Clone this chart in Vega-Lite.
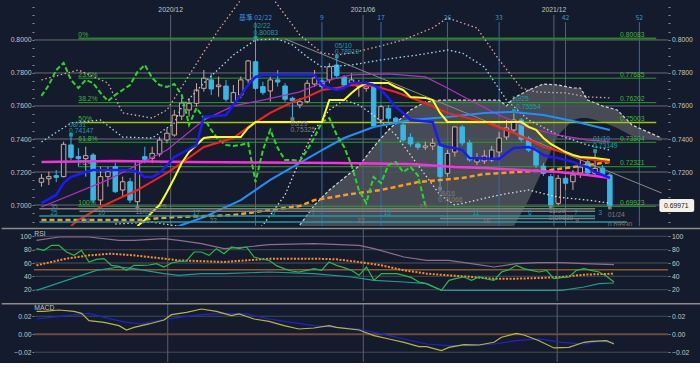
{
"$schema":"https://vega.github.io/schema/vega-lite/v6.json",
"background":"#141b2c",
"padding":0,
"spacing":0,
"config":{"view":{"stroke":null},"axis":{"labelFont":"Liberation Sans","labelFontSize":6.8,"labelColor":"#c4c4c4","domain":false,"tickColor":"#8c8c8c","tickSize":2,"grid":false},"text":{"font":"Liberation Sans","fontSize":6.8}},
"datasets":{
"candles":[
{"d":"2020-08-03","o":0.7138,"h":0.7188,"l":0.7111,"c":0.7162},
{"d":"2020-08-10","o":0.7159,"h":0.7202,"l":0.7121,"c":0.7172},
{"d":"2020-08-17","o":0.7178,"h":0.7212,"l":0.7139,"c":0.7168},
{"d":"2020-08-24","o":0.7172,"h":0.7384,"l":0.7168,"c":0.7368},
{"d":"2020-08-31","o":0.7364,"h":0.74147,"l":0.7273,"c":0.7289},
{"d":"2020-09-07","o":0.7293,"h":0.7345,"l":0.7232,"c":0.7281},
{"d":"2020-09-14","o":0.7281,"h":0.7353,"l":0.7172,"c":0.7299},
{"d":"2020-09-21","o":0.7303,"h":0.7315,"l":0.7012,"c":0.7030},
{"d":"2020-09-28","o":0.7030,"h":0.7232,"l":0.7000,"c":0.7172},
{"d":"2020-10-05","o":0.7172,"h":0.7232,"l":0.7111,"c":0.7202},
{"d":"2020-10-12","o":0.7232,"h":0.7255,"l":0.7073,"c":0.7081},
{"d":"2020-10-19","o":0.7091,"h":0.7172,"l":0.7050,"c":0.7141},
{"d":"2020-10-26","o":0.7141,"h":0.7164,"l":0.7012,"c":0.7030},
{"d":"2020-11-02","o":0.7020,"h":0.7273,"l":0.69923,"c":0.7263},
{"d":"2020-11-09","o":0.7293,"h":0.7353,"l":0.7253,"c":0.7277},
{"d":"2020-11-16","o":0.7283,"h":0.7353,"l":0.7253,"c":0.7313},
{"d":"2020-11-23","o":0.7309,"h":0.7414,"l":0.7293,"c":0.7394},
{"d":"2020-11-30","o":0.7394,"h":0.7465,"l":0.7374,"c":0.7435},
{"d":"2020-12-07","o":0.7424,"h":0.7576,"l":0.7414,"c":0.7545},
{"d":"2020-12-14","o":0.7539,"h":0.7649,"l":0.7515,"c":0.7618},
{"d":"2020-12-21","o":0.7576,"h":0.7647,"l":0.7535,"c":0.7616},
{"d":"2020-12-28","o":0.7616,"h":0.7738,"l":0.7596,"c":0.7697},
{"d":"2021-01-04","o":0.7707,"h":0.7818,"l":0.7687,"c":0.7768},
{"d":"2021-01-11","o":0.7758,"h":0.7798,"l":0.7667,"c":0.7703},
{"d":"2021-01-18","o":0.7717,"h":0.7778,"l":0.7656,"c":0.7727},
{"d":"2021-01-25","o":0.7721,"h":0.7758,"l":0.7626,"c":0.7641},
{"d":"2021-02-01","o":0.7622,"h":0.7727,"l":0.7606,"c":0.7681},
{"d":"2021-02-08","o":0.7667,"h":0.7778,"l":0.7647,"c":0.7758},
{"d":"2021-02-15","o":0.7758,"h":0.7879,"l":0.7738,"c":0.7873},
{"d":"2021-02-22","o":0.7868,"h":0.80083,"l":0.7697,"c":0.7707},
{"d":"2021-03-01","o":0.7717,"h":0.7747,"l":0.7667,"c":0.7681},
{"d":"2021-03-08","o":0.7691,"h":0.7778,"l":0.7626,"c":0.7758},
{"d":"2021-03-15","o":0.7758,"h":0.7818,"l":0.7717,"c":0.7745},
{"d":"2021-03-22","o":0.7721,"h":0.7738,"l":0.7626,"c":0.7641},
{"d":"2021-03-29","o":0.7647,"h":0.7656,"l":0.75325,"c":0.7632},
{"d":"2021-04-05","o":0.7606,"h":0.7647,"l":0.7586,"c":0.7626},
{"d":"2021-04-12","o":0.7626,"h":0.7758,"l":0.7616,"c":0.7738},
{"d":"2021-04-19","o":0.7733,"h":0.7818,"l":0.7715,"c":0.7770},
{"d":"2021-04-26","o":0.7752,"h":0.7768,"l":0.7697,"c":0.7717},
{"d":"2021-05-03","o":0.7758,"h":0.7859,"l":0.7738,"c":0.7838},
{"d":"2021-05-10","o":0.7848,"h":0.78919,"l":0.7770,"c":0.7784},
{"d":"2021-05-17","o":0.7774,"h":0.7788,"l":0.7717,"c":0.7727},
{"d":"2021-05-24","o":0.7741,"h":0.7798,"l":0.7727,"c":0.7758},
{"d":"2021-05-31","o":0.7717,"h":0.7758,"l":0.7656,"c":0.7738},
{"d":"2021-06-07","o":0.7707,"h":0.7747,"l":0.7687,"c":0.7717},
{"d":"2021-06-14","o":0.7717,"h":0.7727,"l":0.7475,"c":0.7479},
{"d":"2021-06-21","o":0.7515,"h":0.7606,"l":0.7495,"c":0.7596},
{"d":"2021-06-28","o":0.7586,"h":0.7606,"l":0.7505,"c":0.7526},
{"d":"2021-07-05","o":0.7526,"h":0.7535,"l":0.7485,"c":0.7505},
{"d":"2021-07-12","o":0.7485,"h":0.7495,"l":0.7384,"c":0.7394},
{"d":"2021-07-19","o":0.7410,"h":0.7435,"l":0.7353,"c":0.7370},
{"d":"2021-07-26","o":0.7370,"h":0.7384,"l":0.7333,"c":0.7350},
{"d":"2021-08-02","o":0.7350,"h":0.7384,"l":0.7333,"c":0.7358},
{"d":"2021-08-09","o":0.7358,"h":0.7404,"l":0.7333,"c":0.7374},
{"d":"2021-08-16","o":0.7358,"h":0.7374,"l":0.71066,"c":0.7172},
{"d":"2021-08-23","o":0.7192,"h":0.7333,"l":0.7172,"c":0.7313},
{"d":"2021-08-30","o":0.7321,"h":0.7475,"l":0.7293,"c":0.7473},
{"d":"2021-09-06","o":0.7473,"h":0.7485,"l":0.7358,"c":0.7376},
{"d":"2021-09-13","o":0.7376,"h":0.7394,"l":0.7261,"c":0.7273},
{"d":"2021-09-20","o":0.7261,"h":0.7315,"l":0.7242,"c":0.7285},
{"d":"2021-09-27","o":0.7267,"h":0.7333,"l":0.7249,"c":0.7297},
{"d":"2021-10-04","o":0.7273,"h":0.7358,"l":0.7261,"c":0.7333},
{"d":"2021-10-11","o":0.7321,"h":0.7442,"l":0.7291,"c":0.7406},
{"d":"2021-10-18","o":0.7412,"h":0.7515,"l":0.7394,"c":0.7467},
{"d":"2021-10-25","o":0.7455,"h":0.75554,"l":0.7436,"c":0.7515},
{"d":"2021-11-01","o":0.7515,"h":0.7527,"l":0.7382,"c":0.7398},
{"d":"2021-11-08","o":0.7404,"h":0.7418,"l":0.7321,"c":0.7333},
{"d":"2021-11-15","o":0.7333,"h":0.7345,"l":0.7224,"c":0.7242},
{"d":"2021-11-22","o":0.7236,"h":0.7255,"l":0.7176,"c":0.7192},
{"d":"2021-11-29","o":0.7172,"h":0.7188,"l":0.69936,"c":0.7000},
{"d":"2021-12-06","o":0.7010,"h":0.7182,"l":0.6998,"c":0.7162},
{"d":"2021-12-13","o":0.7162,"h":0.7176,"l":0.7091,"c":0.7132},
{"d":"2021-12-20","o":0.7141,"h":0.7212,"l":0.7091,"c":0.7182},
{"d":"2021-12-27","o":0.7194,"h":0.7273,"l":0.7164,"c":0.7230},
{"d":"2022-01-03","o":0.7262,"h":0.7285,"l":0.7176,"c":0.7194},
{"d":"2022-01-10","o":0.7192,"h":0.73149,"l":0.7176,"c":0.7222},
{"d":"2022-01-17","o":0.7224,"h":0.7242,"l":0.7170,"c":0.7182},
{"d":"2022-01-24","o":0.7182,"h":0.7194,"l":0.6993,"c":0.69971}
],
"ma":[
{"s":"blue","d":"2020-08-03","p":0.7012},{"s":"blue","d":"2020-08-17","p":0.7061},{"s":"blue","d":"2020-08-24","p":0.7133},{"s":"blue","d":"2020-08-31","p":0.7170},{"s":"blue","d":"2020-09-14","p":0.7200},{"s":"blue","d":"2020-09-21","p":0.7212},{"s":"blue","d":"2020-10-26","p":0.7212},{"s":"blue","d":"2020-11-02","p":0.7200},{"s":"blue","d":"2020-11-09","p":0.7170},{"s":"blue","d":"2020-11-16","p":0.7170},{"s":"blue","d":"2020-11-23","p":0.7194},{"s":"blue","d":"2020-11-30","p":0.7242},{"s":"blue","d":"2020-12-07","p":0.7291},{"s":"blue","d":"2020-12-14","p":0.7315},{"s":"blue","d":"2020-12-21","p":0.7339},{"s":"blue","d":"2020-12-28","p":0.7364},{"s":"blue","d":"2021-01-04","p":0.7533},{"s":"blue","d":"2021-01-25","p":0.7545},{"s":"blue","d":"2021-02-01","p":0.7606},{"s":"blue","d":"2021-02-08","p":0.7667},{"s":"blue","d":"2021-02-15","p":0.7727},{"s":"blue","d":"2021-02-22","p":0.7776},{"s":"blue","d":"2021-03-01","p":0.7788},{"s":"blue","d":"2021-04-19","p":0.7788},{"s":"blue","d":"2021-04-26","p":0.7727},{"s":"blue","d":"2021-05-03","p":0.7709},{"s":"blue","d":"2021-05-10","p":0.7697},{"s":"blue","d":"2021-05-17","p":0.7709},{"s":"blue","d":"2021-05-24","p":0.7739},{"s":"blue","d":"2021-06-07","p":0.7739},{"s":"blue","d":"2021-06-14","p":0.7727},{"s":"blue","d":"2021-06-21","p":0.7697},{"s":"blue","d":"2021-06-28","p":0.7649},{"s":"blue","d":"2021-07-05","p":0.7594},{"s":"blue","d":"2021-07-12","p":0.7558},{"s":"blue","d":"2021-07-19","p":0.7515},{"s":"blue","d":"2021-08-09","p":0.7503},{"s":"blue","d":"2021-08-16","p":0.7364},{"s":"blue","d":"2021-08-23","p":0.7352},{"s":"blue","d":"2021-08-30","p":0.7345},{"s":"blue","d":"2021-09-06","p":0.7333},{"s":"blue","d":"2021-09-13","p":0.7285},{"s":"blue","d":"2021-10-11","p":0.7279},{"s":"blue","d":"2021-10-18","p":0.7315},{"s":"blue","d":"2021-10-25","p":0.7345},{"s":"blue","d":"2021-11-08","p":0.7352},{"s":"blue","d":"2021-11-15","p":0.7333},{"s":"blue","d":"2021-11-22","p":0.7303},{"s":"blue","d":"2021-11-29","p":0.7291},{"s":"blue","d":"2021-12-06","p":0.7285},{"s":"blue","d":"2021-12-13","p":0.7273},{"s":"blue","d":"2021-12-20","p":0.7261},{"s":"blue","d":"2021-12-27","p":0.7242},{"s":"blue","d":"2022-01-03","p":0.7230},{"s":"blue","d":"2022-01-10","p":0.7200},{"s":"blue","d":"2022-01-17","p":0.7182},{"s":"blue","d":"2022-01-24","p":0.7164},
{"s":"red","d":"2020-08-31","p":0.6873},{"s":"red","d":"2020-09-07","p":0.6909},{"s":"red","d":"2020-09-28","p":0.6988},{"s":"red","d":"2020-10-12","p":0.7030},{"s":"red","d":"2020-11-02","p":0.7091},{"s":"red","d":"2020-11-30","p":0.7194},{"s":"red","d":"2020-12-14","p":0.7255},{"s":"red","d":"2021-01-04","p":0.7352},{"s":"red","d":"2021-02-01","p":0.7406},{"s":"red","d":"2021-02-15","p":0.7473},{"s":"red","d":"2021-03-08","p":0.7558},{"s":"red","d":"2021-03-29","p":0.7624},{"s":"red","d":"2021-04-12","p":0.7655},{"s":"red","d":"2021-04-26","p":0.7697},{"s":"red","d":"2021-05-10","p":0.7709},{"s":"red","d":"2021-05-24","p":0.7727},{"s":"red","d":"2021-06-14","p":0.7721},{"s":"red","d":"2021-07-05","p":0.7685},{"s":"red","d":"2021-08-02","p":0.7618},{"s":"red","d":"2021-08-23","p":0.7558},{"s":"red","d":"2021-09-27","p":0.7503},{"s":"red","d":"2021-10-25","p":0.7436},{"s":"red","d":"2021-11-08","p":0.7394},{"s":"red","d":"2021-11-22","p":0.7352},{"s":"red","d":"2021-12-13","p":0.7315},{"s":"red","d":"2021-12-27","p":0.7285},{"s":"red","d":"2022-01-24","p":0.7261},
{"s":"yellow","d":"2020-11-02","p":0.6873},{"s":"yellow","d":"2020-11-09","p":0.6909},{"s":"yellow","d":"2020-11-16","p":0.6958},{"s":"yellow","d":"2020-11-23","p":0.7000},{"s":"yellow","d":"2020-11-30","p":0.7079},{"s":"yellow","d":"2020-12-07","p":0.7164},{"s":"yellow","d":"2020-12-14","p":0.7255},{"s":"yellow","d":"2020-12-21","p":0.7321},{"s":"yellow","d":"2020-12-28","p":0.7364},{"s":"yellow","d":"2021-01-04","p":0.7406},{"s":"yellow","d":"2021-01-11","p":0.7412},{"s":"yellow","d":"2021-02-08","p":0.7412},{"s":"yellow","d":"2021-02-15","p":0.7467},{"s":"yellow","d":"2021-02-22","p":0.7503},{"s":"yellow","d":"2021-04-26","p":0.7503},{"s":"yellow","d":"2021-05-03","p":0.7636},{"s":"yellow","d":"2021-05-17","p":0.7636},{"s":"yellow","d":"2021-05-24","p":0.7679},{"s":"yellow","d":"2021-05-31","p":0.7715},{"s":"yellow","d":"2021-06-07","p":0.7739},{"s":"yellow","d":"2021-06-28","p":0.7739},{"s":"yellow","d":"2021-07-05","p":0.7715},{"s":"yellow","d":"2021-07-12","p":0.7697},{"s":"yellow","d":"2021-07-19","p":0.7655},{"s":"yellow","d":"2021-08-02","p":0.7649},{"s":"yellow","d":"2021-08-09","p":0.7636},{"s":"yellow","d":"2021-08-16","p":0.7558},{"s":"yellow","d":"2021-08-23","p":0.7503},{"s":"yellow","d":"2021-11-01","p":0.7503},{"s":"yellow","d":"2021-11-08","p":0.7473},{"s":"yellow","d":"2021-11-15","p":0.7455},{"s":"yellow","d":"2021-11-22","p":0.7406},{"s":"yellow","d":"2021-11-29","p":0.7370},{"s":"yellow","d":"2021-12-06","p":0.7345},{"s":"yellow","d":"2021-12-13","p":0.7321},{"s":"yellow","d":"2021-12-20","p":0.7303},{"s":"yellow","d":"2021-12-27","p":0.7291},{"s":"yellow","d":"2022-01-10","p":0.7285},{"s":"yellow","d":"2022-01-24","p":0.7273},
{"s":"lblue","d":"2020-12-07","p":0.6860},{"s":"lblue","d":"2020-12-14","p":0.6879},{"s":"lblue","d":"2021-01-04","p":0.6927},{"s":"lblue","d":"2021-02-08","p":0.7030},{"s":"lblue","d":"2021-03-08","p":0.7152},{"s":"lblue","d":"2021-04-05","p":0.7255},{"s":"lblue","d":"2021-04-26","p":0.7333},{"s":"lblue","d":"2021-05-17","p":0.7406},{"s":"lblue","d":"2021-06-14","p":0.7473},{"s":"lblue","d":"2021-07-19","p":0.7515},{"s":"lblue","d":"2021-08-23","p":0.7533},{"s":"lblue","d":"2021-09-27","p":0.7558},{"s":"lblue","d":"2021-10-25","p":0.7564},{"s":"lblue","d":"2021-11-22","p":0.7545},{"s":"lblue","d":"2021-12-20","p":0.7509},{"s":"lblue","d":"2022-01-24","p":0.7455},
{"s":"mag","d":"2020-08-03","p":0.7261},{"s":"mag","d":"2020-10-12","p":0.7267},{"s":"mag","d":"2020-12-21","p":0.7261},{"s":"mag","d":"2021-03-01","p":0.7258},{"s":"mag","d":"2021-05-10","p":0.7255},{"s":"mag","d":"2021-07-19","p":0.7249},{"s":"mag","d":"2021-08-30","p":0.7230},{"s":"mag","d":"2021-09-27","p":0.7224},{"s":"mag","d":"2021-11-01","p":0.7212},{"s":"mag","d":"2021-12-06","p":0.7200},{"s":"mag","d":"2022-01-03","p":0.7182},{"s":"mag","d":"2022-01-24","p":0.7164},
{"s":"purple","d":"2020-08-03","p":0.6988},{"s":"purple","d":"2020-10-05","p":0.7152},{"s":"purple","d":"2020-11-30","p":0.7333},{"s":"purple","d":"2021-01-04","p":0.7515},{"s":"purple","d":"2021-02-01","p":0.7600},{"s":"purple","d":"2021-03-01","p":0.7636},{"s":"purple","d":"2021-04-05","p":0.7685},{"s":"purple","d":"2021-05-03","p":0.7758},{"s":"purple","d":"2021-05-24","p":0.7788},{"s":"purple","d":"2021-06-28","p":0.7794},{"s":"purple","d":"2021-08-02","p":0.7776},{"s":"purple","d":"2021-08-23","p":0.7709},{"s":"purple","d":"2021-09-13","p":0.7636},{"s":"purple","d":"2021-10-11","p":0.7545},{"s":"purple","d":"2021-11-08","p":0.7467},{"s":"purple","d":"2021-12-06","p":0.7424},{"s":"purple","d":"2022-01-03","p":0.7394},{"s":"purple","d":"2022-01-24","p":0.7382},
{"s":"orange","d":"2020-08-03","p":0.6909},{"s":"orange","d":"2020-11-02","p":0.6909},{"s":"orange","d":"2020-12-07","p":0.6927},{"s":"orange","d":"2021-02-01","p":0.6939},{"s":"orange","d":"2021-03-08","p":0.6970},{"s":"orange","d":"2021-04-05","p":0.6994},{"s":"orange","d":"2021-04-19","p":0.7030},{"s":"orange","d":"2021-05-24","p":0.7067},{"s":"orange","d":"2021-06-21","p":0.7091},{"s":"orange","d":"2021-07-26","p":0.7139},{"s":"orange","d":"2021-09-06","p":0.7164},{"s":"orange","d":"2021-09-27","p":0.7188},{"s":"orange","d":"2021-11-29","p":0.7212},{"s":"orange","d":"2021-12-27","p":0.7236},{"s":"orange","d":"2022-01-24","p":0.7261},
{"s":"chikou","d":"2020-08-03","p":0.7661},{"s":"chikou","d":"2020-08-10","p":0.7727},{"s":"chikou","d":"2020-08-17","p":0.7818},{"s":"chikou","d":"2020-08-24","p":0.7861},{"s":"chikou","d":"2020-08-31","p":0.7758},{"s":"chikou","d":"2020-09-07","p":0.7709},{"s":"chikou","d":"2020-09-14","p":0.7758},{"s":"chikou","d":"2020-09-21","p":0.7739},{"s":"chikou","d":"2020-09-28","p":0.7679},{"s":"chikou","d":"2020-10-05","p":0.7630},{"s":"chikou","d":"2020-10-12","p":0.7667},{"s":"chikou","d":"2020-10-19","p":0.7697},{"s":"chikou","d":"2020-10-26","p":0.7727},{"s":"chikou","d":"2020-11-02","p":0.7806},{"s":"chikou","d":"2020-11-09","p":0.7848},{"s":"chikou","d":"2020-11-16","p":0.7770},{"s":"chikou","d":"2020-11-23","p":0.7727},{"s":"chikou","d":"2020-11-30","p":0.7715},{"s":"chikou","d":"2020-12-07","p":0.7733},{"s":"chikou","d":"2020-12-14","p":0.7667},{"s":"chikou","d":"2020-12-21","p":0.7485},{"s":"chikou","d":"2020-12-28","p":0.7588},{"s":"chikou","d":"2021-01-04","p":0.7527},{"s":"chikou","d":"2021-01-11","p":0.7455},{"s":"chikou","d":"2021-01-18","p":0.7394},{"s":"chikou","d":"2021-01-25","p":0.7364},{"s":"chikou","d":"2021-02-01","p":0.7358},{"s":"chikou","d":"2021-02-08","p":0.7364},{"s":"chikou","d":"2021-02-15","p":0.7376},{"s":"chikou","d":"2021-02-22","p":0.7139},{"s":"chikou","d":"2021-03-01","p":0.7333},{"s":"chikou","d":"2021-03-08","p":0.7455},{"s":"chikou","d":"2021-03-15","p":0.7345},{"s":"chikou","d":"2021-03-22","p":0.7273},{"s":"chikou","d":"2021-03-29","p":0.7273},{"s":"chikou","d":"2021-04-05","p":0.7267},{"s":"chikou","d":"2021-04-12","p":0.7333},{"s":"chikou","d":"2021-04-19","p":0.7412},{"s":"chikou","d":"2021-04-26","p":0.7503},{"s":"chikou","d":"2021-05-03","p":0.7527},{"s":"chikou","d":"2021-05-10","p":0.7424},{"s":"chikou","d":"2021-05-17","p":0.7352},{"s":"chikou","d":"2021-05-24","p":0.7242},{"s":"chikou","d":"2021-05-31","p":0.7091},{"s":"chikou","d":"2021-06-07","p":0.7012},{"s":"chikou","d":"2021-06-14","p":0.7170},{"s":"chikou","d":"2021-06-21","p":0.7133},{"s":"chikou","d":"2021-06-28","p":0.7242},{"s":"chikou","d":"2021-07-05","p":0.7261},{"s":"chikou","d":"2021-07-12","p":0.7200},{"s":"chikou","d":"2021-07-19","p":0.7230},{"s":"chikou","d":"2021-07-26","p":0.7180},{"s":"chikou","d":"2021-08-02","p":0.6997},
{"s":"pinkU","d":"2020-08-03","p":0.7758},{"s":"pinkU","d":"2020-09-07","p":0.7818},{"s":"pinkU","d":"2020-10-05","p":0.7739},{"s":"pinkU","d":"2020-10-19","p":0.7558},{"s":"pinkU","d":"2020-11-16","p":0.7527},{"s":"pinkU","d":"2020-11-30","p":0.7576},{"s":"pinkU","d":"2020-12-14","p":0.7715},{"s":"pinkU","d":"2021-01-04","p":0.7927},{"s":"pinkU","d":"2021-01-18","p":0.8061},{"s":"pinkU","d":"2021-02-01","p":0.8182},{"s":"pinkU","d":"2021-02-15","p":0.8303},{"s":"pinkU","d":"2021-03-01","p":0.8333},{"s":"pinkU","d":"2021-03-15","p":0.8212},{"s":"pinkU","d":"2021-03-22","p":0.8152},{"s":"pinkU","d":"2021-04-05","p":0.8030},{"s":"pinkU","d":"2021-04-26","p":0.7921},{"s":"pinkU","d":"2021-05-10","p":0.7909},{"s":"pinkU","d":"2021-05-24","p":0.7921},{"s":"pinkU","d":"2021-06-21","p":0.7964},{"s":"pinkU","d":"2021-07-12","p":0.8000},{"s":"pinkU","d":"2021-08-09","p":0.8073},{"s":"pinkU","d":"2021-08-23","p":0.8133},{"s":"pinkU","d":"2021-09-20","p":0.8073},{"s":"pinkU","d":"2021-10-11","p":0.7879},{"s":"pinkU","d":"2021-11-01","p":0.7709},{"s":"pinkU","d":"2021-11-15","p":0.7685},{"s":"pinkU","d":"2021-12-13","p":0.7679},{"s":"pinkU","d":"2022-01-03","p":0.7655},{"s":"pinkU","d":"2022-01-24","p":0.7649},
{"s":"cyanU","d":"2020-08-03","p":0.7382},{"s":"cyanU","d":"2020-08-31","p":0.7497},{"s":"cyanU","d":"2020-09-28","p":0.7515},{"s":"cyanU","d":"2020-10-19","p":0.7412},{"s":"cyanU","d":"2020-11-16","p":0.7406},{"s":"cyanU","d":"2020-12-07","p":0.7497},{"s":"cyanU","d":"2020-12-14","p":0.7594},{"s":"cyanU","d":"2021-01-04","p":0.7739},{"s":"cyanU","d":"2021-02-01","p":0.7909},{"s":"cyanU","d":"2021-02-22","p":0.8000},{"s":"cyanU","d":"2021-03-15","p":0.8006},{"s":"cyanU","d":"2021-03-29","p":0.7970},{"s":"cyanU","d":"2021-04-12","p":0.7897},{"s":"cyanU","d":"2021-04-26","p":0.7836},{"s":"cyanU","d":"2021-05-24","p":0.7848},{"s":"cyanU","d":"2021-06-21","p":0.7879},{"s":"cyanU","d":"2021-07-26","p":0.7909},{"s":"cyanU","d":"2021-08-23","p":0.7939},{"s":"cyanU","d":"2021-09-06","p":0.7921},{"s":"cyanU","d":"2021-09-27","p":0.7836},{"s":"cyanU","d":"2021-10-18","p":0.7636},{"s":"cyanU","d":"2021-11-08","p":0.7515},{"s":"cyanU","d":"2021-12-06","p":0.7424},{"s":"cyanU","d":"2022-01-03","p":0.7364},{"s":"cyanU","d":"2022-01-24","p":0.7333},
{"s":"whiteL","d":"2020-10-12","p":0.6885},{"s":"whiteL","d":"2020-11-16","p":0.6897},{"s":"whiteL","d":"2020-12-21","p":0.6861},{"s":"whiteL","d":"2021-01-25","p":0.6800},{"s":"whiteL","d":"2021-02-15","p":0.6800},{"s":"whiteL","d":"2021-03-01","p":0.6879},{"s":"whiteL","d":"2021-03-22","p":0.7061},{"s":"whiteL","d":"2021-04-05","p":0.7273},{"s":"whiteL","d":"2021-04-19","p":0.7455},{"s":"whiteL","d":"2021-05-03","p":0.7576},{"s":"whiteL","d":"2021-05-17","p":0.7636},{"s":"whiteL","d":"2021-05-31","p":0.7606},{"s":"whiteL","d":"2021-06-14","p":0.7545},{"s":"whiteL","d":"2021-07-05","p":0.7424},{"s":"whiteL","d":"2021-07-26","p":0.7242},{"s":"whiteL","d":"2021-08-16","p":0.7061},{"s":"whiteL","d":"2021-08-30","p":0.7000},{"s":"whiteL","d":"2021-09-20","p":0.7030},{"s":"whiteL","d":"2021-10-11","p":0.7061},{"s":"whiteL","d":"2021-11-08","p":0.7091},{"s":"whiteL","d":"2021-12-06","p":0.7048},{"s":"whiteL","d":"2022-01-03","p":0.7030},{"s":"whiteL","d":"2022-01-24","p":0.7012},
{"s":"trend","d":"2021-03-22","p":0.8006},{"s":"trend","d":"2022-03-14","p":0.7073}
],
"cloud":[
{"d":"2021-04-05","u":0.6879,"l":0.6873},{"d":"2021-04-19","u":0.7000,"l":0.6873},{"d":"2021-05-03","u":0.7091,"l":0.6873},{"d":"2021-05-17","u":0.7164,"l":0.6873},{"d":"2021-05-31","u":0.7236,"l":0.6873},{"d":"2021-06-14","u":0.7352,"l":0.6873},{"d":"2021-06-28","u":0.7455,"l":0.6873},{"d":"2021-07-19","u":0.7576,"l":0.6873},{"d":"2021-08-02","u":0.7624,"l":0.6873},{"d":"2021-08-16","u":0.7636,"l":0.6873},{"d":"2021-10-11","u":0.7636,"l":0.6873},{"d":"2021-10-18","u":0.7600,"l":0.6873},{"d":"2021-10-25","u":0.7649,"l":0.6873},{"d":"2021-11-08","u":0.7697,"l":0.7030},{"d":"2021-11-22","u":0.7733,"l":0.7224},{"d":"2021-12-06","u":0.7727,"l":0.7424},{"d":"2021-12-20","u":0.7709,"l":0.7515},{"d":"2021-12-27","u":0.7709,"l":0.7527},{"d":"2022-01-03","u":0.7636,"l":0.7527},{"d":"2022-01-17","u":0.7600,"l":0.7503},{"d":"2022-01-31","u":0.7576,"l":0.7467},{"d":"2022-02-14","u":0.7485,"l":0.7418},{"d":"2022-03-14","u":0.7406,"l":0.7388}
],
"grid":[{"p":0.70},{"p":0.72},{"p":0.74},{"p":0.76},{"p":0.78},{"p":0.80}],
"fib":[{"p":0.80083,"pct":"0%","lab":"0.80083"},{"p":0.77685,"pct":"23.6%","lab":"0.77685"},{"p":0.76202,"pct":"38.2%","lab":"0.76202"},{"p":0.75003,"pct":"50%","lab":"0.75003"},{"p":0.73804,"pct":"61.8%","lab":"0.73804"},{"p":0.72321,"pct":"76.4%","lab":"0.72321"},{"p":0.69923,"pct":"100%","lab":"0.69923"}],
"vd":[{"d":"2020-12-03T12:00:00Z","t":"2020/12"},{"d":"2021-06-04T00:00:00Z","t":"2021/06"},{"d":"2021-12-02T00:00:00Z","t":"2021/12"}],
"cycles":[{"d":"2021-02-22","t":"基準 02/22"},{"d":"2021-04-26","t":"9"},{"d":"2021-06-21","t":"17"},{"d":"2021-08-23","t":"26"},{"d":"2021-10-11","t":"33"},{"d":"2021-12-13","t":"42"},{"d":"2022-02-21","t":"52"}],
"pivm":[{"d":"2020-08-31","p":0.7425,"k":"hi"},{"d":"2021-02-22","p":0.8014,"k":"hi"},{"d":"2021-05-10","p":0.7900,"k":"hi"},{"d":"2021-10-25","p":0.7570,"k":"hi"},{"d":"2022-01-10","p":0.7327,"k":"hi"},{"d":"2020-11-02","p":0.6985,"k":"lo"},{"d":"2021-03-29","p":0.7521,"k":"lo"},{"d":"2021-08-16","p":0.7099,"k":"lo"},{"d":"2021-11-29","p":0.6986,"k":"lo"},{"d":"2022-01-24","p":0.6985,"k":"lo"}],
"pivt":[
{"d":"2020-08-31","p":0.7486,"t":"08/31","k":"hi"},{"d":"2020-08-31","p":0.7448,"t":"0.74147","k":"hi"},
{"d":"2021-02-22","p":0.8087,"t":"02/22","k":"hi"},{"d":"2021-02-22","p":0.8044,"t":"0.80083","k":"hi"},
{"d":"2021-05-10","p":0.7964,"t":"05/10","k":"hi"},{"d":"2021-05-10","p":0.7925,"t":"0.78919","k":"hi"},
{"d":"2021-10-25","p":0.7642,"t":"10/25","k":"hi"},{"d":"2021-10-29","p":0.7594,"t":"0.75554","k":"hi"},
{"d":"2022-01-10","p":0.7400,"t":"01/10","k":"hi"},{"d":"2022-01-10","p":0.7358,"t":"0.73149","k":"hi"},
{"d":"2020-11-02","p":0.6955,"t":"11/02","k":"lo"},
{"d":"2021-03-29","p":0.7491,"t":"03/29","k":"lo"},{"d":"2021-03-29","p":0.7452,"t":"0.75325","k":"lo"},
{"d":"2021-08-16","p":0.7068,"t":"08/16","k":"lo"},{"d":"2021-08-16","p":0.7028,"t":"0.71066","k":"lo"},
{"d":"2021-11-29","p":0.6966,"t":"11/29","k":"lo"},{"d":"2021-11-29","p":0.6923,"t":"0.69936","k":"lo"},
{"d":"2022-01-24","p":0.6939,"t":"01/24","k":"lo"},{"d":"2022-01-24","p":0.6880,"t":"0.69930","k":"lo"}
],
"spans":[{"d":"2020-08-01","d2":"2022-01-10","p":0.6978,"k":"g"},{"d":"2020-09-08","d2":"2022-01-10","p":0.6962,"k":"g"},{"d":"2020-08-01","d2":"2022-01-10","p":0.6933,"k":"t"},{"d":"2021-08-16","d2":"2022-01-10","p":0.6919,"k":"g"},{"d":"2020-08-01","d2":"2022-02-09","p":0.6897,"k":"t"}],
"spant":[
{"d":"2020-08-15","p":0.6990,"t":"35","k":"r1"},{"d":"2020-11-26","p":0.6990,"t":"25","k":"r1"},{"d":"2021-03-31","p":0.6990,"t":"11","k":"r1"},{"d":"2021-07-31","p":0.6990,"t":"23","k":"r1"},
{"d":"2020-08-15","p":0.6950,"t":"25","k":"r2"},{"d":"2020-09-29","p":0.6950,"t":"10","k":"r2"},{"d":"2020-12-28","p":0.6950,"t":"17","k":"r2"},{"d":"2021-03-11","p":0.6950,"t":"6","k":"r2"},{"d":"2021-04-18","p":0.6950,"t":"7","k":"r2"},{"d":"2021-06-27","p":0.6950,"t":"15","k":"r2"},{"d":"2021-09-19","p":0.6950,"t":"11","k":"r2"},{"d":"2021-11-09","p":0.6950,"t":"6","k":"r2"},{"d":"2021-12-23","p":0.6952,"t":"7","k":"r2"},{"d":"2022-01-15","p":0.6950,"t":"3","k":"r2"},
{"d":"2020-09-14","p":0.6906,"t":"24","k":"r3"},{"d":"2021-01-13","p":0.6906,"t":"22","k":"r3"},{"d":"2021-06-02","p":0.6906,"t":"22","k":"r3"},{"d":"2021-09-29","p":0.6906,"t":"16","k":"r3"},{"d":"2021-12-24","p":0.6906,"t":"9","k":"r3"}
],
"price":[{"d":"2022-03-12","d2":"2022-04-14","dt":"2022-03-28","p":0.7036,"p2":0.6958,"pm":0.69971,"t":"0.69971"}],
"sep":[{"k":"sep"}],
"rg":[{"v":20},{"v":40},{"v":60},{"v":80},{"v":100}],
"mg":[{"v":-0.02},{"v":0.02}],
"rsi":[
{"s":"rsi","d":"2020-08-03","v":81.5},{"s":"rsi","d":"2020-08-10","v":79},{"s":"rsi","d":"2020-08-17","v":86.5},{"s":"rsi","d":"2020-08-24","v":86.5},{"s":"rsi","d":"2020-08-31","v":76.5},{"s":"rsi","d":"2020-09-07","v":71.5},{"s":"rsi","d":"2020-09-14","v":79},{"s":"rsi","d":"2020-09-21","v":61.5},{"s":"rsi","d":"2020-09-28","v":65.5},{"s":"rsi","d":"2020-10-05","v":66.5},{"s":"rsi","d":"2020-10-12","v":56.5},{"s":"rsi","d":"2020-10-19","v":55},{"s":"rsi","d":"2020-10-26","v":49},{"s":"rsi","d":"2020-11-02","v":56.5},{"s":"rsi","d":"2020-11-09","v":56.5},{"s":"rsi","d":"2020-11-16","v":57},{"s":"rsi","d":"2020-11-23","v":59},{"s":"rsi","d":"2020-11-30","v":54},{"s":"rsi","d":"2020-12-07","v":60},{"s":"rsi","d":"2020-12-14","v":62.5},{"s":"rsi","d":"2020-12-21","v":63},{"s":"rsi","d":"2020-12-28","v":76.5},{"s":"rsi","d":"2021-01-04","v":76.5},{"s":"rsi","d":"2021-01-11","v":71.5},{"s":"rsi","d":"2021-01-18","v":81.5},{"s":"rsi","d":"2021-01-25","v":74},{"s":"rsi","d":"2021-02-01","v":84},{"s":"rsi","d":"2021-02-08","v":81.5},{"s":"rsi","d":"2021-02-15","v":84},{"s":"rsi","d":"2021-02-22","v":69},{"s":"rsi","d":"2021-03-01","v":66},{"s":"rsi","d":"2021-03-08","v":64},{"s":"rsi","d":"2021-03-15","v":56},{"s":"rsi","d":"2021-03-22","v":51.5},{"s":"rsi","d":"2021-03-29","v":48},{"s":"rsi","d":"2021-04-05","v":46.5},{"s":"rsi","d":"2021-04-12","v":49},{"s":"rsi","d":"2021-04-19","v":51.5},{"s":"rsi","d":"2021-04-26","v":49},{"s":"rsi","d":"2021-05-03","v":61.5},{"s":"rsi","d":"2021-05-10","v":56.5},{"s":"rsi","d":"2021-05-17","v":53},{"s":"rsi","d":"2021-05-24","v":49},{"s":"rsi","d":"2021-05-31","v":41.5},{"s":"rsi","d":"2021-06-07","v":54},{"s":"rsi","d":"2021-06-14","v":34},{"s":"rsi","d":"2021-06-21","v":44},{"s":"rsi","d":"2021-06-28","v":44},{"s":"rsi","d":"2021-07-05","v":44},{"s":"rsi","d":"2021-07-12","v":41.5},{"s":"rsi","d":"2021-07-19","v":38},{"s":"rsi","d":"2021-07-26","v":31.5},{"s":"rsi","d":"2021-08-02","v":29},{"s":"rsi","d":"2021-08-09","v":24},{"s":"rsi","d":"2021-08-16","v":19},{"s":"rsi","d":"2021-08-23","v":34},{"s":"rsi","d":"2021-08-30","v":37},{"s":"rsi","d":"2021-09-06","v":39},{"s":"rsi","d":"2021-09-13","v":34},{"s":"rsi","d":"2021-09-20","v":39},{"s":"rsi","d":"2021-09-27","v":36},{"s":"rsi","d":"2021-10-04","v":34},{"s":"rsi","d":"2021-10-11","v":46.5},{"s":"rsi","d":"2021-10-18","v":50},{"s":"rsi","d":"2021-10-25","v":56.5},{"s":"rsi","d":"2021-11-01","v":51.5},{"s":"rsi","d":"2021-11-08","v":49},{"s":"rsi","d":"2021-11-15","v":46.5},{"s":"rsi","d":"2021-11-22","v":49},{"s":"rsi","d":"2021-11-29","v":36.5},{"s":"rsi","d":"2021-12-06","v":38},{"s":"rsi","d":"2021-12-13","v":39},{"s":"rsi","d":"2021-12-20","v":49},{"s":"rsi","d":"2021-12-27","v":51.5},{"s":"rsi","d":"2022-01-03","v":49},{"s":"rsi","d":"2022-01-10","v":46.5},{"s":"rsi","d":"2022-01-17","v":40},{"s":"rsi","d":"2022-01-24","v":31.5},
{"s":"up","d":"2020-08-03","v":94},{"s":"up","d":"2020-08-24","v":99},{"s":"up","d":"2020-09-21","v":99},{"s":"up","d":"2020-10-19","v":94},{"s":"up","d":"2020-11-02","v":94},{"s":"up","d":"2020-11-30","v":96.5},{"s":"up","d":"2020-12-14","v":94},{"s":"up","d":"2021-01-04","v":89},{"s":"up","d":"2021-01-25","v":81.5},{"s":"up","d":"2021-02-15","v":84},{"s":"up","d":"2021-03-08","v":87.5},{"s":"up","d":"2021-04-19","v":89},{"s":"up","d":"2021-05-31","v":86.5},{"s":"up","d":"2021-06-14","v":81.5},{"s":"up","d":"2021-07-12","v":69},{"s":"up","d":"2021-08-02","v":64},{"s":"up","d":"2021-08-23","v":64},{"s":"up","d":"2021-09-13","v":59},{"s":"up","d":"2021-10-04","v":54},{"s":"up","d":"2021-10-25","v":59},{"s":"up","d":"2021-11-15","v":60.5},{"s":"up","d":"2021-12-06","v":60.5},{"s":"up","d":"2021-12-27","v":59},{"s":"up","d":"2022-01-24","v":57.5},
{"s":"lo","d":"2020-08-03","v":19},{"s":"lo","d":"2020-08-31","v":34},{"s":"lo","d":"2020-09-28","v":49},{"s":"lo","d":"2020-10-19","v":54},{"s":"lo","d":"2020-11-02","v":51.5},{"s":"lo","d":"2020-11-30","v":44},{"s":"lo","d":"2020-12-14","v":41.5},{"s":"lo","d":"2021-01-04","v":44},{"s":"lo","d":"2021-01-25","v":44},{"s":"lo","d":"2021-03-08","v":46.5},{"s":"lo","d":"2021-04-19","v":44},{"s":"lo","d":"2021-05-24","v":39},{"s":"lo","d":"2021-06-14","v":34},{"s":"lo","d":"2021-07-12","v":31.5},{"s":"lo","d":"2021-08-02","v":29},{"s":"lo","d":"2021-08-16","v":19},{"s":"lo","d":"2021-09-13","v":19},{"s":"lo","d":"2021-10-25","v":19},{"s":"lo","d":"2021-12-06","v":19},{"s":"lo","d":"2021-12-27","v":24},{"s":"lo","d":"2022-01-10","v":29},{"s":"lo","d":"2022-01-24","v":30},
{"s":"sig","d":"2020-08-03","v":56.5},{"s":"sig","d":"2020-08-31","v":66.5},{"s":"sig","d":"2020-09-21","v":71.5},{"s":"sig","d":"2020-10-12","v":74},{"s":"sig","d":"2020-11-02","v":71.5},{"s":"sig","d":"2020-12-14","v":64},{"s":"sig","d":"2021-01-25","v":61.5},{"s":"sig","d":"2021-03-08","v":66.5},{"s":"sig","d":"2021-04-19","v":66.5},{"s":"sig","d":"2021-05-10","v":65.5},{"s":"sig","d":"2021-05-31","v":61.5},{"s":"sig","d":"2021-06-21","v":56.5},{"s":"sig","d":"2021-07-12","v":49},{"s":"sig","d":"2021-08-02","v":44},{"s":"sig","d":"2021-08-23","v":41.5},{"s":"sig","d":"2021-09-13","v":39},{"s":"sig","d":"2021-10-04","v":36.5},{"s":"sig","d":"2021-10-25","v":36.5},{"s":"sig","d":"2021-11-15","v":37.5},{"s":"sig","d":"2021-12-06","v":39},{"s":"sig","d":"2021-12-27","v":42.5},{"s":"sig","d":"2022-01-24","v":44}
],
"macd":[
{"s":"macd","d":"2020-08-03","v":0.0255},{"s":"macd","d":"2020-08-10","v":0.0255},{"s":"macd","d":"2020-08-24","v":0.0270},{"s":"macd","d":"2020-09-07","v":0.0255},{"s":"macd","d":"2020-09-14","v":0.0233},{"s":"macd","d":"2020-09-21","v":0.0151},{"s":"macd","d":"2020-10-05","v":0.0133},{"s":"macd","d":"2020-10-19","v":0.0096},{"s":"macd","d":"2020-10-26","v":0.0048},{"s":"macd","d":"2020-11-02","v":0.0077},{"s":"macd","d":"2020-11-16","v":0.0115},{"s":"macd","d":"2020-11-30","v":0.0159},{"s":"macd","d":"2020-12-07","v":0.0218},{"s":"macd","d":"2020-12-21","v":0.0244},{"s":"macd","d":"2021-01-04","v":0.0281},{"s":"macd","d":"2021-01-18","v":0.0255},{"s":"macd","d":"2021-02-01","v":0.0207},{"s":"macd","d":"2021-02-08","v":0.0226},{"s":"macd","d":"2021-02-22","v":0.0170},{"s":"macd","d":"2021-03-08","v":0.0144},{"s":"macd","d":"2021-03-22","v":0.0096},{"s":"macd","d":"2021-04-05","v":0.0059},{"s":"macd","d":"2021-04-19","v":0.0070},{"s":"macd","d":"2021-05-03","v":0.0096},{"s":"macd","d":"2021-05-10","v":0.0077},{"s":"macd","d":"2021-05-31","v":0.0048},{"s":"macd","d":"2021-06-14","v":-0.0015},{"s":"macd","d":"2021-06-28","v":-0.0052},{"s":"macd","d":"2021-07-12","v":-0.0089},{"s":"macd","d":"2021-07-26","v":-0.0137},{"s":"macd","d":"2021-08-02","v":-0.0137},{"s":"macd","d":"2021-08-16","v":-0.0182},{"s":"macd","d":"2021-08-23","v":-0.0145},{"s":"macd","d":"2021-09-06","v":-0.0115},{"s":"macd","d":"2021-09-20","v":-0.0119},{"s":"macd","d":"2021-10-04","v":-0.0089},{"s":"macd","d":"2021-10-11","v":-0.0033},{"s":"macd","d":"2021-10-25","v":0.0011},{"s":"macd","d":"2021-11-01","v":-0.0008},{"s":"macd","d":"2021-11-15","v":-0.0071},{"s":"macd","d":"2021-11-29","v":-0.0152},{"s":"macd","d":"2021-12-13","v":-0.0145},{"s":"macd","d":"2021-12-27","v":-0.0089},{"s":"macd","d":"2022-01-03","v":-0.0078},{"s":"macd","d":"2022-01-17","v":-0.0071},{"s":"macd","d":"2022-01-24","v":-0.0108},
{"s":"sig","d":"2020-08-03","v":0.0170},{"s":"sig","d":"2020-08-31","v":0.0207},{"s":"sig","d":"2020-09-21","v":0.0233},{"s":"sig","d":"2020-10-05","v":0.0189},{"s":"sig","d":"2020-10-26","v":0.0133},{"s":"sig","d":"2020-11-09","v":0.0115},{"s":"sig","d":"2020-11-23","v":0.0151},{"s":"sig","d":"2020-12-14","v":0.0189},{"s":"sig","d":"2021-01-04","v":0.0218},{"s":"sig","d":"2021-01-25","v":0.0233},{"s":"sig","d":"2021-02-15","v":0.0226},{"s":"sig","d":"2021-03-08","v":0.0170},{"s":"sig","d":"2021-03-29","v":0.0133},{"s":"sig","d":"2021-04-19","v":0.0096},{"s":"sig","d":"2021-05-10","v":0.0077},{"s":"sig","d":"2021-05-31","v":0.0059},{"s":"sig","d":"2021-06-21","v":0.0004},{"s":"sig","d":"2021-07-12","v":-0.0052},{"s":"sig","d":"2021-08-02","v":-0.0108},{"s":"sig","d":"2021-08-23","v":-0.0126},{"s":"sig","d":"2021-09-13","v":-0.0126},{"s":"sig","d":"2021-10-04","v":-0.0108},{"s":"sig","d":"2021-10-25","v":-0.0071},{"s":"sig","d":"2021-11-15","v":-0.0052},{"s":"sig","d":"2021-12-06","v":-0.0089},{"s":"sig","d":"2021-12-27","v":-0.0108},{"s":"sig","d":"2022-01-10","v":-0.0078},{"s":"sig","d":"2022-01-24","v":-0.0089}
]
},
"vconcat":[
{
"width":634,"height":226,
"resolve":{"axis":{"y":"independent"}},
"layer":[
{"data":{"name":"cloud"},"mark":{"type":"area","color":"#8e8e8e","opacity":0.42,"clip":true},"encoding":{"x":{"field":"d","type":"temporal","scale":{"type":"utc","domain":[{"year":2020,"month":7,"date":31,"hours":16,"utc":true},{"year":2022,"month":3,"date":15,"hours":10,"utc":true}]},"axis":null},"y":{"field":"u","type":"quantitative","scale":{"domain":[0.6873,0.8242],"nice":false,"zero":false},"axis":null},"y2":{"field":"l"}}},
{"data":{"name":"grid"},"mark":{"type":"rule","color":"#4c525c","strokeWidth":1},"encoding":{"y":{"field":"p","type":"quantitative","title":null,"scale":{"domain":[0.6873,0.8242],"nice":false,"zero":false},"axis":{"orient":"left","values":[0.69,0.695,0.7,0.705,0.71,0.715,0.72,0.725,0.73,0.735,0.74,0.745,0.75,0.755,0.76,0.765,0.77,0.775,0.78,0.785,0.79,0.795,0.8,0.805,0.81,0.815,0.82],"labelExpr":"datum.value < 0.81 && round(datum.value*1000) % 20 == 0 ? format(datum.value, '.4f') : ''","labelPadding":1,"minExtent":33,"maxExtent":33}}}},
{"data":{"name":"grid"},"mark":{"type":"rule","color":"#4c525c","strokeWidth":1},"encoding":{"y":{"field":"p","type":"quantitative","title":null,"scale":{"domain":[0.6873,0.8242],"nice":false,"zero":false},"axis":{"orient":"right","values":[0.69,0.695,0.7,0.705,0.71,0.715,0.72,0.725,0.73,0.735,0.74,0.745,0.75,0.755,0.76,0.765,0.77,0.775,0.78,0.785,0.79,0.795,0.8,0.805,0.81,0.815,0.82],"labelExpr":"datum.value < 0.81 && datum.value > 0.71 && round(datum.value*1000) % 20 == 0 ? format(datum.value, '.4f') : ''","labelPadding":1.5,"minExtent":33,"maxExtent":33}}}},
{"data":{"name":"vd"},"mark":{"type":"rule","color":"#5a606b"},"encoding":{"x":{"field":"d","type":"temporal","scale":{"type":"utc","domain":[{"year":2020,"month":7,"date":31,"hours":16,"utc":true},{"year":2022,"month":3,"date":15,"hours":10,"utc":true}]},"axis":null},"y":{"datum":0.8152,"type":"quantitative","scale":{"domain":[0.6873,0.8242],"nice":false,"zero":false},"axis":null},"y2":{"datum":0.6873}}},
{"data":{"name":"vd"},"mark":{"type":"text","color":"#c4c4c4"},"encoding":{"x":{"field":"d","type":"temporal","scale":{"type":"utc","domain":[{"year":2020,"month":7,"date":31,"hours":16,"utc":true},{"year":2022,"month":3,"date":15,"hours":10,"utc":true}]},"axis":null},"y":{"datum":0.8182,"type":"quantitative","scale":{"domain":[0.6873,0.8242],"nice":false,"zero":false},"axis":null},"text":{"field":"t"}}},
{"data":{"name":"cycles"},"mark":{"type":"rule","color":"#2d6ea8"},"encoding":{"x":{"field":"d","type":"temporal","scale":{"type":"utc","domain":[{"year":2020,"month":7,"date":31,"hours":16,"utc":true},{"year":2022,"month":3,"date":15,"hours":10,"utc":true}]},"axis":null},"y":{"datum":0.8108,"type":"quantitative","scale":{"domain":[0.6873,0.8242],"nice":false,"zero":false},"axis":null},"y2":{"datum":0.6873}}},
{"data":{"name":"cycles"},"mark":{"type":"text","color":"#3f93d9","font":"Noto Sans CJK JP"},"encoding":{"x":{"field":"d","type":"temporal","scale":{"type":"utc","domain":[{"year":2020,"month":7,"date":31,"hours":16,"utc":true},{"year":2022,"month":3,"date":15,"hours":10,"utc":true}]},"axis":null},"y":{"datum":0.8135,"type":"quantitative","scale":{"domain":[0.6873,0.8242],"nice":false,"zero":false},"axis":null},"text":{"field":"t"}}},
{"data":{"name":"fib"},"mark":{"type":"rule"},"encoding":{"x":{"datum":{"year":2020,"month":9,"date":7,"utc":true},"type":"temporal","scale":{"type":"utc","domain":[{"year":2020,"month":7,"date":31,"hours":16,"utc":true},{"year":2022,"month":3,"date":15,"hours":10,"utc":true}]},"axis":null},"x2":{"datum":{"year":2022,"month":3,"date":9,"utc":true}},"y":{"field":"p","type":"quantitative","scale":{"domain":[0.6873,0.8242],"nice":false,"zero":false},"axis":null},"color":{"condition":[{"test":"datum.pct=='0%'","value":"#2f7d2f"},{"test":"datum.pct=='50%'","value":"#a0c800"}],"value":"#1fa51f"},"strokeWidth":{"condition":[{"test":"datum.pct=='0%'","value":2},{"test":"datum.pct=='50%'","value":1.6}],"value":1}}},
{"data":{"name":"fib"},"mark":{"type":"text","color":"#3cb63c","align":"left","baseline":"alphabetic","dy":-1.5},"encoding":{"x":{"datum":{"year":2020,"month":9,"date":7,"utc":true},"type":"temporal","scale":{"type":"utc","domain":[{"year":2020,"month":7,"date":31,"hours":16,"utc":true},{"year":2022,"month":3,"date":15,"hours":10,"utc":true}]},"axis":null},"y":{"field":"p","type":"quantitative","scale":{"domain":[0.6873,0.8242],"nice":false,"zero":false},"axis":null},"text":{"field":"pct"}}},
{"data":{"name":"fib"},"mark":{"type":"text","color":"#3cb63c","align":"right","baseline":"alphabetic","dy":-1.5},"encoding":{"x":{"datum":{"year":2022,"month":2,"date":26,"utc":true},"type":"temporal","scale":{"type":"utc","domain":[{"year":2020,"month":7,"date":31,"hours":16,"utc":true},{"year":2022,"month":3,"date":15,"hours":10,"utc":true}]},"axis":null},"y":{"field":"p","type":"quantitative","scale":{"domain":[0.6873,0.8242],"nice":false,"zero":false},"axis":null},"text":{"field":"lab"}}},
{"data":{"name":"candles"},"mark":{"type":"rule","strokeWidth":1},"encoding":{"x":{"field":"d","type":"temporal","scale":{"type":"utc","domain":[{"year":2020,"month":7,"date":31,"hours":16,"utc":true},{"year":2022,"month":3,"date":15,"hours":10,"utc":true}]},"axis":null},"y":{"field":"l","type":"quantitative","scale":{"domain":[0.6873,0.8242],"nice":false,"zero":false},"axis":null},"y2":{"field":"h"},"color":{"condition":{"test":"datum.c < datum.o","value":"#38b6e6"},"value":"#cfa9a0"}}},
{"data":{"name":"candles"},"mark":{"type":"bar","width":4.5,"strokeWidth":1},"encoding":{"x":{"field":"d","type":"temporal","scale":{"type":"utc","domain":[{"year":2020,"month":7,"date":31,"hours":16,"utc":true},{"year":2022,"month":3,"date":15,"hours":10,"utc":true}]},"axis":null},"y":{"field":"o","type":"quantitative","scale":{"domain":[0.6873,0.8242],"nice":false,"zero":false},"axis":null},"y2":{"field":"c"},"fill":{"condition":{"test":"datum.c < datum.o","value":"#38b6e6"},"value":"#141b2c"},"stroke":{"condition":{"test":"datum.c < datum.o","value":"#38b6e6"},"value":"#cfa9a0"}}},
{"data":{"name":"ma"},"transform":[{"filter":"datum.s=='whiteL'"}],"mark":{"type":"line","color":"#d8d8d8","strokeWidth":1.3,"strokeDash":[1.5,2.5],"clip":true},"encoding":{"x":{"field":"d","type":"temporal","scale":{"type":"utc","domain":[{"year":2020,"month":7,"date":31,"hours":16,"utc":true},{"year":2022,"month":3,"date":15,"hours":10,"utc":true}]},"axis":null},"y":{"field":"p","type":"quantitative","scale":{"domain":[0.6873,0.8242],"nice":false,"zero":false},"axis":null}}},
{"data":{"name":"ma"},"transform":[{"filter":"datum.s=='cyanU'"}],"mark":{"type":"line","color":"#a4d8e6","strokeWidth":1.3,"strokeDash":[1.5,2.5],"clip":true},"encoding":{"x":{"field":"d","type":"temporal","scale":{"type":"utc","domain":[{"year":2020,"month":7,"date":31,"hours":16,"utc":true},{"year":2022,"month":3,"date":15,"hours":10,"utc":true}]},"axis":null},"y":{"field":"p","type":"quantitative","scale":{"domain":[0.6873,0.8242],"nice":false,"zero":false},"axis":null}}},
{"data":{"name":"ma"},"transform":[{"filter":"datum.s=='pinkU'"}],"mark":{"type":"line","color":"#d8a4a4","strokeWidth":1.3,"strokeDash":[1.5,2.5],"clip":true},"encoding":{"x":{"field":"d","type":"temporal","scale":{"type":"utc","domain":[{"year":2020,"month":7,"date":31,"hours":16,"utc":true},{"year":2022,"month":3,"date":15,"hours":10,"utc":true}]},"axis":null},"y":{"field":"p","type":"quantitative","scale":{"domain":[0.6873,0.8242],"nice":false,"zero":false},"axis":null}}},
{"data":{"name":"cloud"},"mark":{"type":"line","color":"#d4d4d4","strokeWidth":1.2,"strokeDash":[3,2],"clip":true},"encoding":{"x":{"field":"d","type":"temporal","scale":{"type":"utc","domain":[{"year":2020,"month":7,"date":31,"hours":16,"utc":true},{"year":2022,"month":3,"date":15,"hours":10,"utc":true}]},"axis":null},"y":{"field":"u","type":"quantitative","scale":{"domain":[0.6873,0.8242],"nice":false,"zero":false},"axis":null}}},
{"data":{"name":"ma"},"transform":[{"filter":"datum.s=='trend'"}],"mark":{"type":"line","color":"#8a8a8a","strokeWidth":1,"clip":true},"encoding":{"x":{"field":"d","type":"temporal","scale":{"type":"utc","domain":[{"year":2020,"month":7,"date":31,"hours":16,"utc":true},{"year":2022,"month":3,"date":15,"hours":10,"utc":true}]},"axis":null},"y":{"field":"p","type":"quantitative","scale":{"domain":[0.6873,0.8242],"nice":false,"zero":false},"axis":null}}},
{"data":{"name":"ma"},"transform":[{"filter":"datum.s=='purple'"}],"mark":{"type":"line","color":"#b030c0","strokeWidth":1.3,"clip":true},"encoding":{"x":{"field":"d","type":"temporal","scale":{"type":"utc","domain":[{"year":2020,"month":7,"date":31,"hours":16,"utc":true},{"year":2022,"month":3,"date":15,"hours":10,"utc":true}]},"axis":null},"y":{"field":"p","type":"quantitative","scale":{"domain":[0.6873,0.8242],"nice":false,"zero":false},"axis":null}}},
{"data":{"name":"ma"},"transform":[{"filter":"datum.s=='lblue'"}],"mark":{"type":"line","color":"#1e8fff","strokeWidth":2,"clip":true},"encoding":{"x":{"field":"d","type":"temporal","scale":{"type":"utc","domain":[{"year":2020,"month":7,"date":31,"hours":16,"utc":true},{"year":2022,"month":3,"date":15,"hours":10,"utc":true}]},"axis":null},"y":{"field":"p","type":"quantitative","scale":{"domain":[0.6873,0.8242],"nice":false,"zero":false},"axis":null}}},
{"data":{"name":"ma"},"transform":[{"filter":"datum.s=='orange'"}],"mark":{"type":"line","color":"#ff9a1a","strokeWidth":2.5,"strokeDash":[5,3],"clip":true},"encoding":{"x":{"field":"d","type":"temporal","scale":{"type":"utc","domain":[{"year":2020,"month":7,"date":31,"hours":16,"utc":true},{"year":2022,"month":3,"date":15,"hours":10,"utc":true}]},"axis":null},"y":{"field":"p","type":"quantitative","scale":{"domain":[0.6873,0.8242],"nice":false,"zero":false},"axis":null}}},
{"data":{"name":"ma"},"transform":[{"filter":"datum.s=='mag'"}],"mark":{"type":"line","color":"#ff2ee0","strokeWidth":2.5,"clip":true},"encoding":{"x":{"field":"d","type":"temporal","scale":{"type":"utc","domain":[{"year":2020,"month":7,"date":31,"hours":16,"utc":true},{"year":2022,"month":3,"date":15,"hours":10,"utc":true}]},"axis":null},"y":{"field":"p","type":"quantitative","scale":{"domain":[0.6873,0.8242],"nice":false,"zero":false},"axis":null}}},
{"data":{"name":"ma"},"transform":[{"filter":"datum.s=='chikou'"}],"mark":{"type":"line","color":"#2bd62b","strokeWidth":2,"strokeDash":[5,2.5],"clip":true},"encoding":{"x":{"field":"d","type":"temporal","scale":{"type":"utc","domain":[{"year":2020,"month":7,"date":31,"hours":16,"utc":true},{"year":2022,"month":3,"date":15,"hours":10,"utc":true}]},"axis":null},"y":{"field":"p","type":"quantitative","scale":{"domain":[0.6873,0.8242],"nice":false,"zero":false},"axis":null}}},
{"data":{"name":"ma"},"transform":[{"filter":"datum.s=='red'"}],"mark":{"type":"line","color":"#ff1e1e","strokeWidth":2,"clip":true},"encoding":{"x":{"field":"d","type":"temporal","scale":{"type":"utc","domain":[{"year":2020,"month":7,"date":31,"hours":16,"utc":true},{"year":2022,"month":3,"date":15,"hours":10,"utc":true}]},"axis":null},"y":{"field":"p","type":"quantitative","scale":{"domain":[0.6873,0.8242],"nice":false,"zero":false},"axis":null}}},
{"data":{"name":"ma"},"transform":[{"filter":"datum.s=='yellow'"}],"mark":{"type":"line","color":"#ffff1a","strokeWidth":2,"clip":true},"encoding":{"x":{"field":"d","type":"temporal","scale":{"type":"utc","domain":[{"year":2020,"month":7,"date":31,"hours":16,"utc":true},{"year":2022,"month":3,"date":15,"hours":10,"utc":true}]},"axis":null},"y":{"field":"p","type":"quantitative","scale":{"domain":[0.6873,0.8242],"nice":false,"zero":false},"axis":null}}},
{"data":{"name":"ma"},"transform":[{"filter":"datum.s=='blue'"}],"mark":{"type":"line","color":"#1a1aff","strokeWidth":2.5,"clip":true},"encoding":{"x":{"field":"d","type":"temporal","scale":{"type":"utc","domain":[{"year":2020,"month":7,"date":31,"hours":16,"utc":true},{"year":2022,"month":3,"date":15,"hours":10,"utc":true}]},"axis":null},"y":{"field":"p","type":"quantitative","scale":{"domain":[0.6873,0.8242],"nice":false,"zero":false},"axis":null}}},
{"data":{"name":"spans"},"mark":{"type":"rule","strokeWidth":1.5,"clip":true},"encoding":{"x":{"field":"d","type":"temporal","scale":{"type":"utc","domain":[{"year":2020,"month":7,"date":31,"hours":16,"utc":true},{"year":2022,"month":3,"date":15,"hours":10,"utc":true}]},"axis":null},"x2":{"field":"d2"},"y":{"field":"p","type":"quantitative","scale":{"domain":[0.6873,0.8242],"nice":false,"zero":false},"axis":null},"color":{"field":"k","type":"nominal","scale":{"domain":["g","t"],"range":["#7e7e7e","#1c9ca6"]},"legend":null}}},
{"data":{"name":"spant"},"mark":{"type":"text","fontSize":6.5},"encoding":{"x":{"field":"d","type":"temporal","scale":{"type":"utc","domain":[{"year":2020,"month":7,"date":31,"hours":16,"utc":true},{"year":2022,"month":3,"date":15,"hours":10,"utc":true}]},"axis":null},"y":{"field":"p","type":"quantitative","scale":{"domain":[0.6873,0.8242],"nice":false,"zero":false},"axis":null},"text":{"field":"t"},"color":{"field":"k","type":"nominal","scale":{"domain":["r1","r2","r3"],"range":["#b8b8b8","#4ab6c6","#38a6b2"]},"legend":null}}},
{"data":{"name":"pivm"},"mark":{"type":"point","shape":"square","filled":true,"size":14,"opacity":1},"encoding":{"x":{"field":"d","type":"temporal","scale":{"type":"utc","domain":[{"year":2020,"month":7,"date":31,"hours":16,"utc":true},{"year":2022,"month":3,"date":15,"hours":10,"utc":true}]},"axis":null},"y":{"field":"p","type":"quantitative","scale":{"domain":[0.6873,0.8242],"nice":false,"zero":false},"axis":null},"color":{"field":"k","type":"nominal","scale":{"domain":["hi","lo"],"range":["#eadcd4","#3ccae6"]},"legend":null}}},
{"data":{"name":"pivt"},"mark":{"type":"text","align":"left","dx":-2,"clip":true},"encoding":{"x":{"field":"d","type":"temporal","scale":{"type":"utc","domain":[{"year":2020,"month":7,"date":31,"hours":16,"utc":true},{"year":2022,"month":3,"date":15,"hours":10,"utc":true}]},"axis":null},"y":{"field":"p","type":"quantitative","scale":{"domain":[0.6873,0.8242],"nice":false,"zero":false},"axis":null},"text":{"field":"t"},"color":{"field":"k","type":"nominal","scale":{"domain":["hi","lo"],"range":["#e2e2e2","#4fc6e0"]},"legend":null}}},
{"data":{"name":"price"},"mark":{"type":"rect","color":"#f2f2ea","cornerRadius":2},"encoding":{"x":{"field":"d","type":"temporal","scale":{"type":"utc","domain":[{"year":2020,"month":7,"date":31,"hours":16,"utc":true},{"year":2022,"month":3,"date":15,"hours":10,"utc":true}]},"axis":null},"x2":{"field":"d2"},"y":{"field":"p","type":"quantitative","scale":{"domain":[0.6873,0.8242],"nice":false,"zero":false},"axis":null},"y2":{"field":"p2"}}},
{"data":{"name":"price"},"mark":{"type":"text","color":"#202020"},"encoding":{"x":{"field":"dt","type":"temporal","scale":{"type":"utc","domain":[{"year":2020,"month":7,"date":31,"hours":16,"utc":true},{"year":2022,"month":3,"date":15,"hours":10,"utc":true}]},"axis":null},"y":{"field":"pm","type":"quantitative","scale":{"domain":[0.6873,0.8242],"nice":false,"zero":false},"axis":null},"text":{"field":"t"}}}
]
},
{
"width":634,"height":73,
"resolve":{"axis":{"y":"independent"}},
"layer":[
{"data":{"name":"rg"},"mark":{"type":"rule","color":"#3a404c"},"encoding":{"y":{"field":"v","type":"quantitative","title":null,"scale":{"domain":[3,112.5],"nice":false,"zero":false},"axis":{"orient":"left","values":[20,40,60,80,100],"labelPadding":1,"minExtent":33,"maxExtent":33}}}},
{"data":{"name":"rg"},"mark":{"type":"rule","color":"#3a404c"},"encoding":{"y":{"field":"v","type":"quantitative","title":null,"scale":{"domain":[3,112.5],"nice":false,"zero":false},"axis":{"orient":"right","values":[20,40,60,80,100],"labelPadding":1.5,"minExtent":33,"maxExtent":33}}}},
{"data":{"name":"vd"},"mark":{"type":"rule","color":"#5a606b"},"encoding":{"x":{"field":"d","type":"temporal","scale":{"type":"utc","domain":[{"year":2020,"month":7,"date":31,"hours":16,"utc":true},{"year":2022,"month":3,"date":15,"hours":10,"utc":true}]},"axis":null}}},
{"data":{"name":"sep"},"mark":{"type":"rule","color":"#8a5a30","strokeWidth":1.5},"encoding":{"y":{"datum":50,"type":"quantitative","scale":{"domain":[3,112.5],"nice":false,"zero":false},"axis":null}}},
{"data":{"name":"rsi"},"transform":[{"filter":"datum.s=='up'"}],"mark":{"type":"line","color":"#8e6e8e","strokeWidth":1.2},"encoding":{"x":{"field":"d","type":"temporal","scale":{"type":"utc","domain":[{"year":2020,"month":7,"date":31,"hours":16,"utc":true},{"year":2022,"month":3,"date":15,"hours":10,"utc":true}]},"axis":null},"y":{"field":"v","type":"quantitative","scale":{"domain":[3,112.5],"nice":false,"zero":false},"axis":null}}},
{"data":{"name":"rsi"},"transform":[{"filter":"datum.s=='lo'"}],"mark":{"type":"line","color":"#219c8c","strokeWidth":1.2},"encoding":{"x":{"field":"d","type":"temporal","scale":{"type":"utc","domain":[{"year":2020,"month":7,"date":31,"hours":16,"utc":true},{"year":2022,"month":3,"date":15,"hours":10,"utc":true}]},"axis":null},"y":{"field":"v","type":"quantitative","scale":{"domain":[3,112.5],"nice":false,"zero":false},"axis":null}}},
{"data":{"name":"rsi"},"transform":[{"filter":"datum.s=='sig'"}],"mark":{"type":"line","color":"#ff8c1a","strokeWidth":2,"strokeDash":[2,1.5]},"encoding":{"x":{"field":"d","type":"temporal","scale":{"type":"utc","domain":[{"year":2020,"month":7,"date":31,"hours":16,"utc":true},{"year":2022,"month":3,"date":15,"hours":10,"utc":true}]},"axis":null},"y":{"field":"v","type":"quantitative","scale":{"domain":[3,112.5],"nice":false,"zero":false},"axis":null}}},
{"data":{"name":"rsi"},"transform":[{"filter":"datum.s=='rsi'"}],"mark":{"type":"line","color":"#2cb84c","strokeWidth":1.2},"encoding":{"x":{"field":"d","type":"temporal","scale":{"type":"utc","domain":[{"year":2020,"month":7,"date":31,"hours":16,"utc":true},{"year":2022,"month":3,"date":15,"hours":10,"utc":true}]},"axis":null},"y":{"field":"v","type":"quantitative","scale":{"domain":[3,112.5],"nice":false,"zero":false},"axis":null}}},
{"data":{"name":"sep"},"mark":{"type":"text","color":"#c4c4c4","align":"left","text":"RSI"},"encoding":{"x":{"datum":{"year":2020,"month":8,"date":1,"utc":true},"type":"temporal","scale":{"type":"utc","domain":[{"year":2020,"month":7,"date":31,"hours":16,"utc":true},{"year":2022,"month":3,"date":15,"hours":10,"utc":true}]},"axis":null},"y":{"datum":104,"type":"quantitative","scale":{"domain":[3,112.5],"nice":false,"zero":false},"axis":null}}},
{"data":{"name":"sep"},"mark":{"type":"rule","color":"#8c8c8c","strokeWidth":1.5},"encoding":{"x":{"datum":{"year":2020,"month":7,"date":1,"hours":12,"utc":true},"type":"temporal","scale":{"type":"utc","domain":[{"year":2020,"month":7,"date":31,"hours":16,"utc":true},{"year":2022,"month":3,"date":15,"hours":10,"utc":true}]},"axis":null},"x2":{"datum":{"year":2022,"month":4,"date":14,"hours":12,"utc":true}},"y":{"datum":111.6,"type":"quantitative","scale":{"domain":[3,112.5],"nice":false,"zero":false},"axis":null}}}
]
},
{
"width":634,"height":59,
"resolve":{"axis":{"y":"independent"}},
"layer":[
{"data":{"name":"mg"},"mark":{"type":"rule","color":"#3a404c"},"encoding":{"y":{"field":"v","type":"quantitative","title":null,"scale":{"domain":[-0.0308,0.0348],"nice":false,"zero":false},"axis":{"orient":"left","values":[-0.02,0,0.02],"format":".2f","labelPadding":1,"minExtent":33,"maxExtent":33}}}},
{"data":{"name":"mg"},"mark":{"type":"rule","color":"#3a404c"},"encoding":{"y":{"field":"v","type":"quantitative","title":null,"scale":{"domain":[-0.0308,0.0348],"nice":false,"zero":false},"axis":{"orient":"right","values":[-0.02,0,0.02],"format":".2f","labelPadding":1.5,"minExtent":33,"maxExtent":33}}}},
{"data":{"name":"vd"},"mark":{"type":"rule","color":"#5a606b"},"encoding":{"x":{"field":"d","type":"temporal","title":null,"scale":{"type":"utc","domain":[{"year":2020,"month":7,"date":31,"hours":16,"utc":true},{"year":2022,"month":3,"date":15,"hours":10,"utc":true}]},"axis":{"orient":"bottom","values":[{"year":2020,"month":12,"date":3,"hours":12,"utc":true},{"year":2021,"month":6,"date":4,"utc":true},{"year":2021,"month":12,"date":2,"utc":true}],"format":"%Y/%m","ticks":false,"labelPadding":3,"minExtent":16,"maxExtent":16}}}},
{"data":{"name":"sep"},"mark":{"type":"rule","color":"#6e4a3a","strokeWidth":2},"encoding":{"y":{"datum":0,"type":"quantitative","scale":{"domain":[-0.0308,0.0348],"nice":false,"zero":false},"axis":null}}},
{"data":{"name":"macd"},"transform":[{"filter":"datum.s=='sig'"}],"mark":{"type":"line","color":"#2020dc","strokeWidth":1.2},"encoding":{"x":{"field":"d","type":"temporal","scale":{"type":"utc","domain":[{"year":2020,"month":7,"date":31,"hours":16,"utc":true},{"year":2022,"month":3,"date":15,"hours":10,"utc":true}]},"axis":null},"y":{"field":"v","type":"quantitative","scale":{"domain":[-0.0308,0.0348],"nice":false,"zero":false},"axis":null}}},
{"data":{"name":"macd"},"transform":[{"filter":"datum.s=='macd'"}],"mark":{"type":"line","color":"#b8b832","strokeWidth":1.2},"encoding":{"x":{"field":"d","type":"temporal","scale":{"type":"utc","domain":[{"year":2020,"month":7,"date":31,"hours":16,"utc":true},{"year":2022,"month":3,"date":15,"hours":10,"utc":true}]},"axis":null},"y":{"field":"v","type":"quantitative","scale":{"domain":[-0.0308,0.0348],"nice":false,"zero":false},"axis":null}}},
{"data":{"name":"sep"},"mark":{"type":"text","color":"#c4c4c4","align":"left","text":"MACD"},"encoding":{"x":{"datum":{"year":2020,"month":8,"date":1,"utc":true},"type":"temporal","scale":{"type":"utc","domain":[{"year":2020,"month":7,"date":31,"hours":16,"utc":true},{"year":2022,"month":3,"date":15,"hours":10,"utc":true}]},"axis":null},"y":{"datum":0.0289,"type":"quantitative","scale":{"domain":[-0.0308,0.0348],"nice":false,"zero":false},"axis":null}}},
{"data":{"name":"sep"},"mark":{"type":"rule","color":"#8c8c8c","strokeWidth":1.5},"encoding":{"x":{"datum":{"year":2020,"month":7,"date":1,"hours":12,"utc":true},"type":"temporal","scale":{"type":"utc","domain":[{"year":2020,"month":7,"date":31,"hours":16,"utc":true},{"year":2022,"month":3,"date":15,"hours":10,"utc":true}]},"axis":null},"x2":{"datum":{"year":2022,"month":4,"date":14,"hours":12,"utc":true}},"y":{"datum":0.0340,"type":"quantitative","scale":{"domain":[-0.0308,0.0348],"nice":false,"zero":false},"axis":null}}}
]
}
]
}
